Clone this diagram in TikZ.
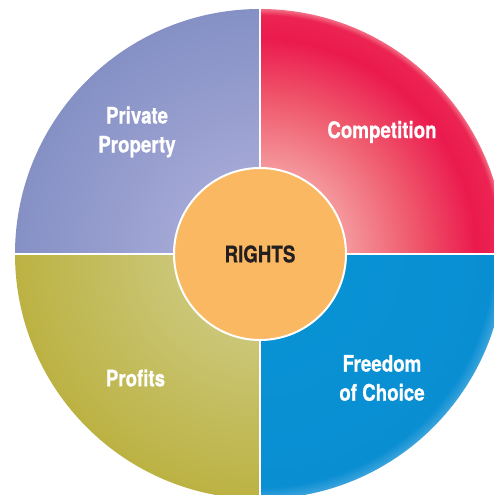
\documentclass[tikz,border=0pt]{standalone}
\usepackage{fontspec}
\setmainfont{TeX Gyre Heros}[FakeStretch=0.82, BoldFeatures={FakeBold=0.6}]

% radial fills for the four sectors (25bp = outer rim of the wheel)
\pgfdeclareradialshading{competitionfill}{\pgfpoint{0bp}{0bp}}{%
  color(0bp)=(rgb,255:red,248;green,168;blue,170);
  color(9bp)=(rgb,255:red,244;green,150;blue,155);
  color(16bp)=(rgb,255:red,239;green,86;blue,107);
  color(22bp)=(rgb,255:red,235;green,26;blue,78);
  color(24.4bp)=(rgb,255:red,236;green,36;blue,82);
  color(25bp)=(rgb,255:red,242;green,111;blue,134);
  color(50bp)=(rgb,255:red,242;green,111;blue,134)}
\pgfdeclareradialshading{propertyfill}{\pgfpoint{0bp}{0bp}}{%
  color(0bp)=(rgb,255:red,168;green,172;blue,216);
  color(9bp)=(rgb,255:red,162;green,167;blue,213);
  color(25bp)=(rgb,255:red,133;green,144;blue,197);
  color(50bp)=(rgb,255:red,133;green,144;blue,197)}
\pgfdeclareradialshading{profitsfill}{\pgfpoint{0bp}{0bp}}{%
  color(0bp)=(rgb,255:red,206;green,202;blue,126);
  color(9bp)=(rgb,255:red,202;green,198;blue,118);
  color(25bp)=(rgb,255:red,188;green,178;blue,67);
  color(50bp)=(rgb,255:red,188;green,178;blue,67)}
\pgfdeclareradialshading{choicefill}{\pgfpoint{0bp}{0bp}}{%
  color(0bp)=(rgb,255:red,8;green,148;blue,213);
  color(9bp)=(rgb,255:red,8;green,146;blue,212);
  color(23.8bp)=(rgb,255:red,10;green,142;blue,210);
  color(25bp)=(rgb,255:red,60;green,164;blue,220);
  color(50bp)=(rgb,255:red,60;green,164;blue,220)}

\definecolor{hubfill}{HTML}{FBB862}
\definecolor{hubtext}{HTML}{231F20}

\begin{document}
\begin{tikzpicture}[
    label/.style={align=center, text=white, font=\fontsize{13}{16.5}\selectfont\bfseries},
    hub/.style={circle, fill=hubfill, draw=white, line width=0.04cm, minimum size=3.44cm, inner sep=0pt,
      text=hubtext, font=\fontsize{13}{16.5}\selectfont\bfseries},
    divider/.style={draw=white, line width=0.05cm}
  ]
  \useasboundingbox (-5.2,-4.82) rectangle (4.68,5.08);

  % four sectors of the wheel
  \foreach \a/\s in {0/competitionfill, 90/propertyfill, 180/profitsfill, 270/choicefill}{
    \begin{scope}
      \clip (0,0) -- (\a:4.9) arc (\a:\a+90:4.9) -- cycle;
      \shade[shading=\s] (0,0) circle (4.9);
    \end{scope}
  }

  % white gaps between the sectors
  \coordinate (c) at (0,0);
  \coordinate (e) at (5,0);
  \coordinate (n) at (0,5);
  \coordinate (w) at (-5,0);
  \coordinate (s) at (0,-5);
  \draw[divider] (c) -- (e);
  \draw[divider] (c) -- (n);
  \draw[divider] (c) -- (w);
  \draw[divider] (c) -- (s);

  \node[hub] (rights) at (c) {RIGHTS};

  \node[label] (property) at (-2.46,2.44) {Private\\Property};
  \node[label] (competition) at (2.44,2.44) {Competition};
  \node[label] (profits) at (-2.49,-2.48) {Profits};
  \node[label] (choice) at (2.44,-2.48) {Freedom\\of Choice};
\end{tikzpicture}
\end{document}
